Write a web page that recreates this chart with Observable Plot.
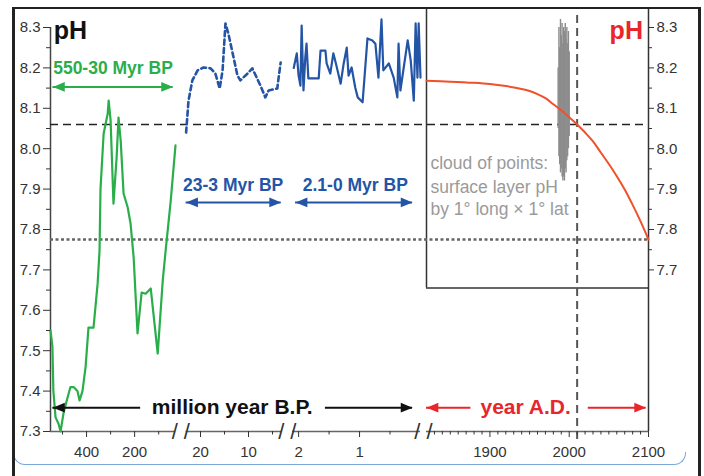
<!DOCTYPE html>
<html><head><meta charset="utf-8">
<script src="https://cdn.jsdelivr.net/npm/d3@7"></script>
<script src="https://cdn.jsdelivr.net/npm/@observablehq/plot@0.6"></script>
<style>
body{margin:0;background:#fff;}
#wrap{position:relative;width:704px;height:476px;overflow:hidden;font-family:"Liberation Sans",Arial,sans-serif;}
#wrap svg{position:absolute;left:0;top:0;}
#frame{position:absolute;left:12px;top:7px;width:683px;height:480px;border-left:3px solid #222;border-right:3px solid #222;border-top:2px solid #222;pointer-events:none;}
#slide{position:absolute;left:13px;top:452px;width:671px;height:12px;border:1.5px solid #7aa8d8;border-top:none;border-radius:0 0 12px 12px;pointer-events:none;}
</style></head>
<body>
<div id="wrap"><div id="slide"></div><div id="frame"></div></div>
<script>
// ---- data ----
// 550-30 Myr BP (green)
const greenMyr = [550,542,538,529,517,508,496,479,467,454,438,429,417,404,392,371,354,346,342,329,312,308,300,288,275,267,258,246,229,217,204,188,171,154,133,104,83,71,50,30];
const greenPH  = [7.55,7.51,7.40,7.335,7.32,7.30,7.345,7.384,7.41,7.41,7.40,7.377,7.40,7.46,7.557,7.557,7.666,7.748,7.90,8.037,8.087,8.119,8.07,7.864,7.978,8.077,8.02,7.889,7.855,7.815,7.73,7.543,7.644,7.641,7.654,7.493,7.674,7.748,7.87,8.008];
// 23-3 Myr BP (blue dashed)
const midMyr = [23,22.5,21.7,20.6,19.4,17.9,16.9,16.0,15.4,14.8,14.2,13.3,12.3,11.7,10.2,9.2,8.5,7.5,6.5,5.8,4.0,3.8,3.3];
const midPH  = [8.04,8.119,8.169,8.194,8.201,8.199,8.186,8.149,8.194,8.31,8.285,8.236,8.181,8.169,8.186,8.199,8.181,8.156,8.127,8.144,8.149,8.169,8.213];
// 2.1-0 Myr BP (blue solid)
const recentMyr = [2.08,2.03,2.0,1.97,1.95,1.92,1.89,1.87,1.84,1.67,1.64,1.56,1.54,1.48,1.43,1.38,1.31,1.26,1.21,1.18,1.13,1.07,1.03,0.95,0.87,0.79,0.74,0.69,0.64,0.61,0.52,0.44,0.38,0.36,0.33,0.21,0.16,0.11,0.08,0.05,0.03,0.0];
const recentPH  = [8.20,8.236,8.181,8.156,8.305,8.144,8.226,8.26,8.174,8.174,8.243,8.243,8.211,8.186,8.236,8.206,8.161,8.211,8.25,8.181,8.201,8.151,8.127,8.115,8.273,8.268,8.26,8.176,8.32,8.194,8.211,8.176,8.127,8.26,8.144,8.268,8.218,8.119,8.31,8.176,8.31,8.176];
// year A.D. projection (red)
const adYear = [1820,1850,1880,1900,1920,1940,1950,1960,1970,1980,1990,2000,2010,2020,2030,2040,2050,2060,2070,2080,2090,2100];
const adPH   = [8.168,8.166,8.163,8.160,8.155,8.148,8.143,8.135,8.125,8.11,8.095,8.078,8.06,8.04,8.018,7.99,7.962,7.932,7.899,7.861,7.82,7.775];
// cloud of points: surface layer pH (range per year)
const cloudYear = [1986,1987,1988,1989,1990,1991,1992,1993,1994,1995,1996,1997,1998,1999,2000];
const cloudLo   = [8.05,7.98,7.96,7.94,7.95,7.93,7.92,7.93,7.92,7.95,7.94,7.97,7.98,8.00,8.03];
const cloudHi   = [8.20,8.30,8.25,8.32,8.28,8.31,8.26,8.30,8.29,8.31,8.27,8.30,8.26,8.29,8.24];
// reference levels
const refDashedPH = 8.06, refDottedPH = 7.775, refYear = 2010;
// tick labels
const yLeftTicks  = [7.3,7.4,7.5,7.6,7.7,7.8,7.9,8.0,8.1,8.2,8.3];
const yLeftMinor  = [7.35,7.45,7.55,7.65,7.75,7.85,7.95,8.05,8.15,8.25];
const yRightTicks = [7.7,7.8,7.9,8.0,8.1,8.2,8.3];
const yRightMinor = [7.75,7.85,7.95,8.05,8.15,8.25];
const xMajorTicks = [-400,-200,-20,-10,-2,-1,1900,2000,2100];
const xMinorTicks = [-500,-300,-100,-15,-5,-1.5,-0.5,1830,1840,1850,1860,1870,1880,1890,1910,1920,1930,1940,1950,1960,1970,1980,1990,2010,2020,2030,2040,2050,2060,2070,2080,2090];
// broken x axis: Myr BP shown as negative values, years A.D. as themselves
const segments = [[-550,-30],[-23,-3],[-2.1,0],[1820,2100]];
const breaks = [-26.5,-2.55,910];

const GREEN="#2aae4a", BLUE="#2454a6", RED="#e8262b", REDLINE="#f0502a", GRAY="#9a9a9a";

// piecewise (broken-axis) transform applied by the x scale
const broken = d3.scaleLinear()
  .domain([-550,-30,-23,-3,-2.1,0,1820,2100])
  .range([50,175,185.6,281.6,292,420,426,648]);

// arrowhead symbols (tip at origin)
const headRight = {draw(c,size){const s=Math.sqrt(size);c.moveTo(0,0);c.lineTo(-1.15*s,-0.47*s);c.lineTo(-1.15*s,0.47*s);c.closePath();}};
const headLeft  = {draw(c,size){const s=Math.sqrt(size);c.moveTo(0,0);c.lineTo(1.15*s,-0.47*s);c.lineTo(1.15*s,0.47*s);c.closePath();}};

const arrows = [
  {x1:-540, x2:-40,  y:8.153, color:GREEN, dash:null, left:true,  right:true},
  {x1:-23,  x2:-3.2, y:7.867, color:BLUE,  dash:"5,3.5", left:true, right:true},
  {x1:-2.05,x2:-0.13,y:7.867, color:BLUE,  dash:null, left:true,  right:true},
  {x1:-540, x2:-175, y:7.359, color:"#111", dash:null, left:true,  right:false},
  {x1:-1.56,x2:-0.13,y:7.359, color:"#111", dash:null, left:false, right:true},
  {x1:1820, x2:1876, y:7.359, color:RED,   dash:null, left:true,  right:false},
  {x1:2024, x2:2097, y:7.359, color:RED,   dash:null, left:false, right:true}
];

const idx = n => d3.range(n);
const fmt = d3.format(".1f");

const chart = Plot.plot({
  width: 704, height: 476,
  marginLeft: 50, marginRight: 56, marginTop: 27, marginBottom: 45,
  style: {fontFamily: "'Liberation Sans', Arial, sans-serif", background: "transparent", overflow: "visible"},
  x: {type: "linear", transform: broken, domain: [50, 648], range: [50, 648], axis: null},
  y: {domain: [7.3, 8.3], axis: null},
  marks: [
    // modern box + right axis line + left axis line
    Plot.ruleX([1820], {x: d=>d, y1: 7.655, y2: 8.345, stroke: "#333", strokeWidth: 1.5}),
    Plot.ruleY([7.655], {y: d=>d, x1: 1820, x2: 2100, stroke: "#333", strokeWidth: 1.5}),
    Plot.ruleX([2100], {x: d=>d, y1: 7.3, y2: 8.345, stroke: "#333", strokeWidth: 1.5}),
    Plot.ruleX([-550], {x: d=>d, y1: 7.3, y2: 8.3, stroke: "#444", strokeWidth: 1.5}),
    Plot.ruleY(segments, {y: 7.3, x1: d=>d[0], x2: d=>d[1], stroke: "#666", strokeWidth: 1.5}),
    // reference lines
    Plot.ruleY([refDashedPH], {y: d=>d, x1: -550, x2: 2100, stroke: "#222", strokeWidth: 1.5, strokeDasharray: "8,5"}),
    Plot.ruleY([refDottedPH], {y: d=>d, x1: -550, x2: 2100, stroke: "#666", strokeWidth: 2.5, strokeDasharray: "3,2.5"}),
    Plot.ruleX([refYear], {x: d=>d, y1: 7.28, y2: 8.34, stroke: "#555", strokeWidth: 2, strokeDasharray: "8,5"}),
    // cloud of points
    Plot.ruleX(idx(cloudYear.length), {x: i=>cloudYear[i], y1: i=>cloudLo[i], y2: i=>cloudHi[i], stroke: "#8c8c8c", strokeWidth: 1.4}),
    // data series
    Plot.line(idx(greenMyr.length), {x: i=>-greenMyr[i], y: i=>greenPH[i], stroke: GREEN, strokeWidth: 2.2}),
    Plot.line(idx(midMyr.length), {x: i=>-midMyr[i], y: i=>midPH[i], stroke: BLUE, strokeWidth: 2.6, strokeDasharray: "5,3.5"}),
    Plot.line(idx(recentMyr.length), {x: i=>-recentMyr[i], y: i=>recentPH[i], stroke: BLUE, strokeWidth: 2.2}),
    Plot.line(idx(adYear.length), {x: i=>adYear[i], y: i=>adPH[i], stroke: REDLINE, strokeWidth: 2, curve: "catmull-rom"}),
    // axes
    Plot.axisY(yLeftTicks, {anchor: "left", tickSize: 7, tickPadding: 3, tickFormat: fmt, fontSize: 15, color: "#333", label: null}),
    Plot.axisY(yLeftMinor, {anchor: "left", tickSize: 4, tickFormat: () => "", color: "#333", label: null}),
    Plot.axisY(yRightTicks, {anchor: "right", tickSize: 5, tickPadding: 3, tickFormat: fmt, fontSize: 15, color: "#333", label: null}),
    Plot.axisY(yRightMinor, {anchor: "right", tickSize: 3, tickFormat: () => "", color: "#333", label: null}),
    Plot.axisX(xMajorTicks, {anchor: "bottom", tickSize: 6, tickPadding: 9, tickFormat: d => d < 0 ? String(-d) : String(d), fontSize: 15, color: "#333", label: null}),
    Plot.axisX(xMinorTicks, {anchor: "bottom", tickSize: 3.5, tickFormat: () => "", color: "#333", label: null}),
    Plot.text(breaks, {x: d=>d, y: 7.3, text: () => "/ /", fontSize: 22, fill: "#333"}),
    // arrows
    Plot.ruleY(arrows, {y: "y", x1: "x1", x2: "x2", stroke: "color", strokeWidth: 2, strokeDasharray: d => d.dash}),
    Plot.dot(arrows.filter(a=>a.left), {x: "x1", y: "y", fill: "color", symbol: headLeft, r: 5.8, stroke: null}),
    Plot.dot(arrows.filter(a=>a.right), {x: "x2", y: "y", fill: "color", symbol: headRight, r: 5.8, stroke: null}),
    // labels
    Plot.text(["pH"], {x: -537, y: 8.3, dy: 3, text: d=>d, textAnchor: "start", fontSize: 25, fontWeight: "bold", fill: "#111"}),
    Plot.text(["pH"], {x: 2093, y: 8.3, dy: 3, text: d=>d, textAnchor: "end", fontSize: 25, fontWeight: "bold", fill: RED}),
    Plot.text(["550-30 Myr BP"], {x: -290, y: 8.2, text: d=>d, fontSize: 17.5, fontWeight: "bold", fill: GREEN}),
    Plot.text(["23-3 Myr BP"], {x: -13.2, y: 7.91, text: d=>d, fontSize: 17.5, fontWeight: "bold", fill: BLUE}),
    Plot.text(["2.1-0 Myr BP"], {x: -1.07, y: 7.91, text: d=>d, fontSize: 17.5, fontWeight: "bold", fill: BLUE}),
    Plot.text(["million year B.P."], {x: -13.4, y: 7.359, text: d=>d, fontSize: 21, fontWeight: "bold", fill: "#111"}),
    Plot.text(["year A.D."], {x: 1945, y: 7.359, text: d=>d, fontSize: 21, fontWeight: "bold", fill: RED}),
    Plot.text(["cloud of points:", "surface layer pH", "by 1° long × 1° lat"], {x: 1825, y: (d,i) => [7.963, 7.905, 7.851][i], text: d=>d, textAnchor: "start", fontSize: 17.5, fill: GRAY})
  ]
});
document.getElementById("wrap").prepend(chart);
</script>
</body></html>
